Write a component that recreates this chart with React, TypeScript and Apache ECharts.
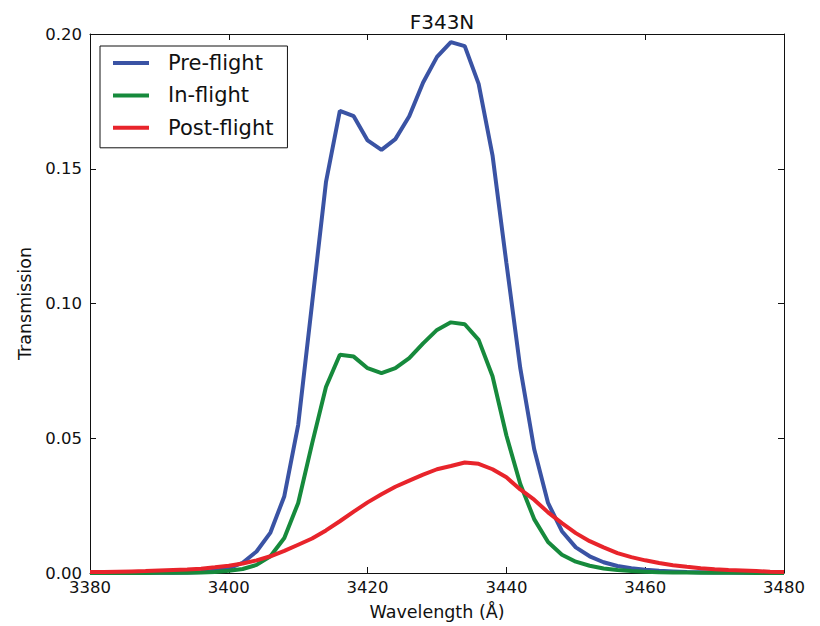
import React, { useEffect, useRef } from "react";
import * as echarts from "echarts";

const wavelengths: number[] = [
  3380, 3382, 3384, 3386, 3388, 3390, 3392, 3394, 3396, 3398,
  3400, 3402, 3404, 3406, 3408, 3410, 3412, 3414, 3416, 3418,
  3420, 3422, 3424, 3426, 3428, 3430, 3432, 3434, 3436, 3438,
  3440, 3442, 3444, 3446, 3448, 3450, 3452, 3454, 3456, 3458,
  3460, 3462, 3464, 3466, 3468, 3470, 3472, 3474, 3476, 3478, 3480,
];

const preFlight: number[] = [
  0.0, 0.0, 0.0, 0.0, 0.0001, 0.0001, 0.0001, 0.0002, 0.0004, 0.0008,
  0.0017, 0.0038, 0.008, 0.015, 0.0285, 0.055, 0.1, 0.145, 0.1715, 0.1695,
  0.1605, 0.157, 0.161, 0.1695, 0.182, 0.1915, 0.197, 0.1955, 0.1815, 0.155,
  0.115, 0.076, 0.046, 0.026, 0.0155, 0.0095, 0.0062, 0.004, 0.0026, 0.0018,
  0.0012, 0.0008, 0.0006, 0.0004, 0.0003, 0.0002, 0.0002, 0.0001, 0.0001, 0.0001, 0.0001,
];

const inFlight: number[] = [
  0.0, 0.0, 0.0, 0.0, 0.0, 0.0001, 0.0001, 0.0001, 0.0002, 0.0004,
  0.0008, 0.0015, 0.003, 0.0062, 0.013, 0.026, 0.048, 0.069, 0.081, 0.0803,
  0.076, 0.0742, 0.076, 0.0797, 0.0852, 0.0902, 0.093, 0.0923, 0.0865, 0.073,
  0.051, 0.033, 0.02, 0.0115, 0.0068, 0.0042, 0.0027, 0.0017, 0.0011, 0.0007,
  0.0005, 0.0003, 0.0002, 0.0002, 0.0001, 0.0001, 0.0001, 0.0001, 0.0, 0.0, 0.0,
];

const postFlight: number[] = [
  0.0004, 0.0004, 0.0005, 0.0006, 0.0007, 0.0009, 0.0011, 0.0013, 0.0016, 0.0021,
  0.0027, 0.0035, 0.0047, 0.0062, 0.0082, 0.0105, 0.0128, 0.0158, 0.0192, 0.0228,
  0.0262, 0.0292, 0.032, 0.0343, 0.0365, 0.0385, 0.0397, 0.041, 0.0405, 0.0385,
  0.0355, 0.031, 0.0272, 0.0225, 0.0185, 0.0148, 0.0118, 0.0095, 0.0074, 0.0059,
  0.0047, 0.0037, 0.0029, 0.0023, 0.0018, 0.0014, 0.0011, 0.0009, 0.0007, 0.0005, 0.0004,
];

const seriesNames: string[] = ["Pre-flight", "In-flight", "Post-flight"];
const seriesColors: string[] = ["#3a53a4", "#168a3c", "#e8242b"];

const FONT = "DejaVu Sans";
const INK = "#111111";

export default function App() {
  const ref = useRef<HTMLDivElement | null>(null);

  useEffect(() => {
    document.body.style.margin = "0";
    if (!ref.current) return;
    const chart = echarts.init(ref.current, undefined, { renderer: "svg" });
    const values = [preFlight, inFlight, postFlight];

    const axisCommon = {
      type: "value" as const,
      axisLine: { show: true, onZero: false, lineStyle: { color: INK, width: 1 } },
      axisTick: { show: true, inside: true, length: 6, lineStyle: { color: INK, width: 1 } },
      splitLine: { show: false },
    };

    chart.setOption({
      animation: false,
      backgroundColor: "#ffffff",
      title: {
        text: "F343N",
        left: 437,
        top: 7,
        textAlign: "center",
        textStyle: { fontFamily: FONT, fontSize: 20, fontWeight: "normal", color: INK },
      },
      legend: {
        show: true,
        orient: "vertical",
        left: 100,
        top: 46,
        padding: [6, 14, 9, 13],
        icon: "rect",
        itemWidth: 36,
        itemHeight: 4,
        itemGap: 10.4,
        borderColor: INK,
        borderWidth: 1,
        borderRadius: 0,
        backgroundColor: "#ffffff",
        data: seriesNames,
        textStyle: {
          fontFamily: FONT,
          fontSize: 21,
          color: INK,
          lineHeight: 22,
          padding: [0, 0, 0, 14],
        },
      },
      grid: { left: 90, right: 36, top: 34, bottom: 50, containLabel: false },
      xAxis: [
        {
          ...axisCommon,
          position: "bottom",
          min: 3380,
          max: 3480,
          interval: 20,
          name: "Wavelength (Å)",
          nameLocation: "middle",
          nameGap: 30,
          nameTextStyle: { fontFamily: FONT, fontSize: 17.5, color: INK },
          axisLabel: {
            show: true,
            margin: 6,
            showMinLabel: true,
            showMaxLabel: true,
            fontFamily: FONT,
            fontSize: 16.5,
            color: INK,
            formatter: (v: number) => String(v),
          },
        },
        {
          ...axisCommon,
          position: "top",
          min: 3380,
          max: 3480,
          interval: 20,
          axisLabel: { show: false },
        },
      ],
      yAxis: [
        {
          ...axisCommon,
          position: "left",
          min: 0,
          max: 0.2,
          interval: 0.05,
          name: "Transmission",
          nameLocation: "middle",
          nameGap: 46,
          nameRotate: 90,
          nameTextStyle: { fontFamily: FONT, fontSize: 17.5, color: INK },
          axisLabel: {
            show: true,
            margin: 8,
            showMinLabel: true,
            showMaxLabel: true,
            fontFamily: FONT,
            fontSize: 16.5,
            color: INK,
            formatter: (v: number) => v.toFixed(2),
          },
        },
        {
          ...axisCommon,
          position: "right",
          min: 0,
          max: 0.2,
          interval: 0.05,
          axisLabel: { show: false },
        },
      ],
      series: seriesNames.map((name, i) => ({
        name,
        type: "line",
        xAxisIndex: 0,
        yAxisIndex: 0,
        symbol: "none",
        showSymbol: false,
        clip: true,
        color: seriesColors[i],
        lineStyle: { color: seriesColors[i], width: 4 },
        itemStyle: { color: seriesColors[i] },
        data: wavelengths.map((w, k) => [w, values[i][k]]),
      })),
    });

    return () => {
      chart.dispose();
    };
  }, []);

  return <div ref={ref} style={{ width: 820, height: 626 }} />;
}
